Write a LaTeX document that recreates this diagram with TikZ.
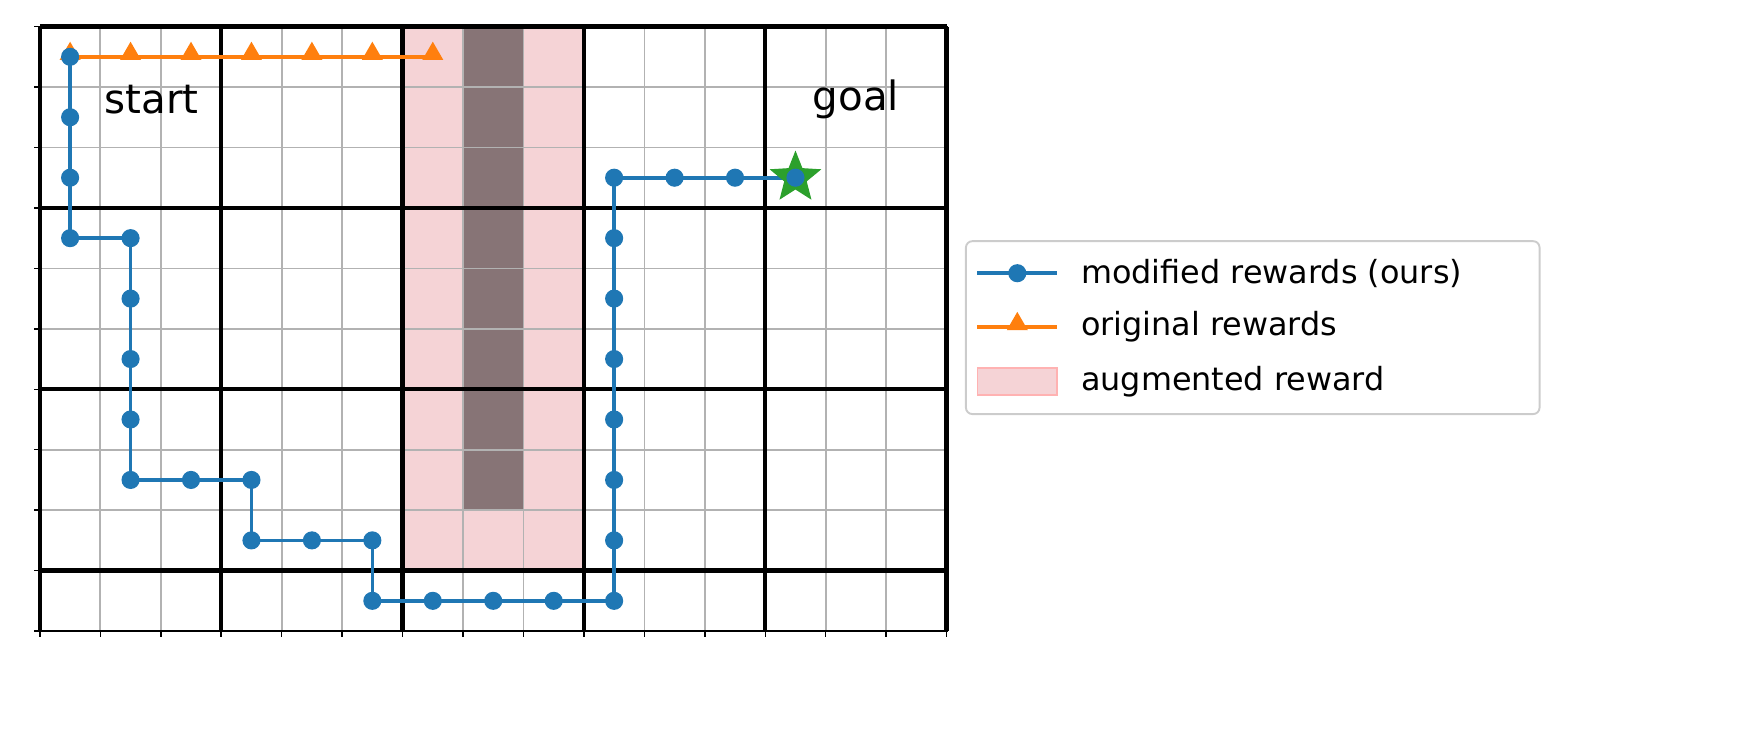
\documentclass[tikz,border=0pt]{standalone}
\usepackage{fontspec}
\setmainfont{DejaVu Sans}
\definecolor{tabblue}{HTML}{1F77B4}
\definecolor{taborange}{HTML}{FF7F0E}
\definecolor{tabgreen}{HTML}{2CA02C}
\definecolor{augpink}{HTML}{F5D3D6}
\tikzset{
  blueline/.style={tabblue, line width=1.7pt},
  orangeline/.style={taborange, line width=1.7pt},
  bluedot/.style={fill=tabblue, draw=none, circle, inner sep=0pt, minimum size=0.3cm},
  orangetri/.style={fill=taborange, draw=none, regular polygon, regular polygon sides=3, inner sep=0pt, minimum size=0.4cm},
}
\usetikzlibrary{shapes.geometric}
\begin{document}
\begin{tikzpicture}
    \useasboundingbox (-0.66,-2.03) rectangle (28.49,10.44);

    % Augmented reward region and wall
    \fill[augpink] (6,1) rectangle (9,10);
    \fill[black!45!augpink] (7,2) rectangle (8,10);

    % Grid
    \draw[gray!60, line width=0.8pt] (0,0) grid (15,10);
    \foreach \x in {0,3,...,15}
        \draw[line width=2pt] (\x,0) -- (\x,10);
    \foreach \y in {1,4,7,10}
        \draw[line width=2pt] (0,\y) -- (15,\y);
    \draw[line width=1pt] (0,0) rectangle (15,10);

    % Ticks
    \foreach \x in {0,...,15}
        \draw[line width=0.7pt] (\x,0) -- (\x,-0.1);
    \foreach \y in {0,...,10}
        \draw[line width=0.7pt] (0,\y) -- (-0.1,\y);

    % Original rewards path
    \draw[orangeline] (0.5,9.5) -- (6.5,9.5);
    \foreach \x in {0.5,1.5,...,6.5}
        \node[orangetri] at (\x,9.55) {};

    % Modified rewards path (ours)
    \draw[blueline] (0.5,9.5) -- (0.5,6.5) -- (1.5,6.5) -- (1.5,2.5) -- (3.5,2.5)
        -- (3.5,1.5) -- (5.5,1.5) -- (5.5,0.5) -- (9.5,0.5) -- (9.5,7.5) -- (12.5,7.5);
    \foreach \p in {(0.5,9.5),(0.5,8.5),(0.5,7.5),(0.5,6.5),(1.5,6.5),(1.5,5.5),(1.5,4.5),
        (1.5,3.5),(1.5,2.5),(2.5,2.5),(3.5,2.5),(3.5,1.5),(4.5,1.5),(5.5,1.5),(5.5,0.5),
        (6.5,0.5),(7.5,0.5),(8.5,0.5),(9.5,0.5),(9.5,1.5),(9.5,2.5),(9.5,3.5),(9.5,4.5),
        (9.5,5.5),(9.5,6.5),(9.5,7.5),(10.5,7.5),(11.5,7.5)}
        \node[bluedot] at \p {};

    % Goal star
    \node[star, star points=5, star point ratio=2.3, fill=tabgreen, inner sep=0pt,
        minimum size=0.9cm] (goalstar) at (12.5,7.5) {};
    \node[bluedot] at (12.5,7.5) {};

    % Labels
    \node[font=\fontsize{19}{22}\selectfont] (startlbl) at (1.85,8.8) {start};
    \node[font=\fontsize{19}{22}\selectfont] (goallbl) at (13.5,8.8) {goal};

    % Legend
    \draw[gray!40, line width=0.9pt, rounded corners=3pt, fill=white] (15.32,3.59) rectangle (24.81,6.45);
    \draw[blueline] (15.51,5.92) -- (16.83,5.92);
    \node[bluedot] at (16.17,5.92) {};
    \node[anchor=west, font=\fontsize{15}{18}\selectfont] (lgblue) at (17.1,5.92) {modified rewards (ours)};
    \draw[orangeline] (15.51,5.03) -- (16.83,5.03);
    \node[orangetri] at (16.17,5.08) {};
    \node[anchor=west, font=\fontsize{15}{18}\selectfont] (lgorange) at (17.1,5.03) {original rewards};
    \filldraw[fill=augpink, draw=red!30, line width=0.8pt] (15.51,3.91) rectangle (16.83,4.35);
    \node[anchor=west, font=\fontsize{15}{18}\selectfont] (lgpink) at (17.1,4.13) {augmented reward};
\end{tikzpicture}
\end{document}
